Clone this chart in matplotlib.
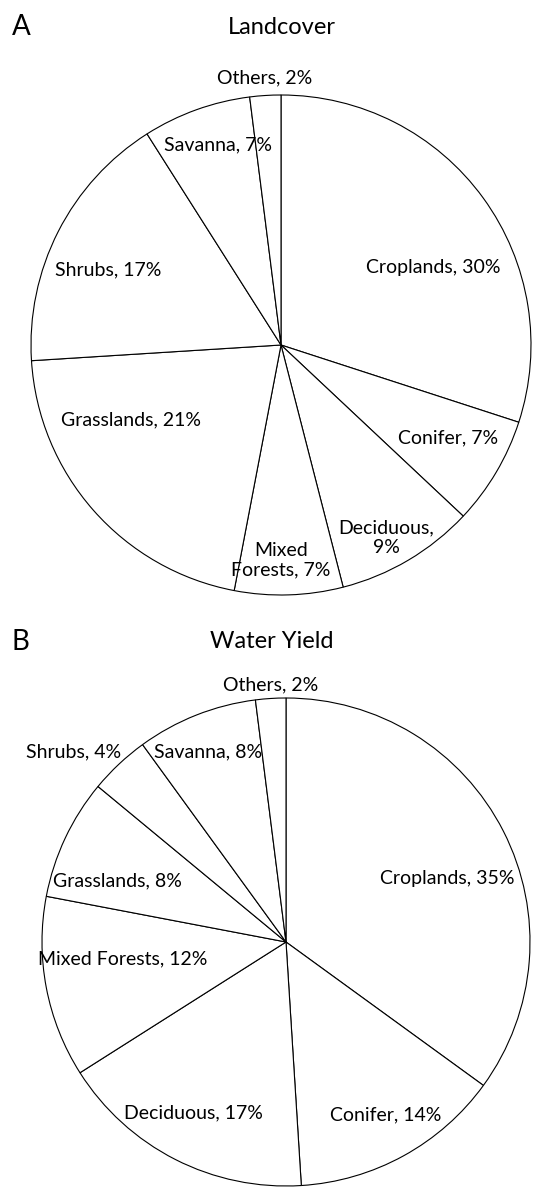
import matplotlib.pyplot as plt
import numpy as np

# data, clockwise from 12 o'clock
categories = ['Croplands', 'Conifer', 'Deciduous', 'Mixed Forests',
              'Grasslands', 'Shrubs', 'Savanna', 'Others']
landcover = [30, 7, 9, 7, 21, 17, 7, 2]
water_yield = [35, 14, 17, 12, 8, 4, 8, 2]

# label layout (in units of pie radius, relative to pie centre)
label_pos_a = [(0.61, 0.31), (0.67, -0.37), (0.42, -0.77), (0.00, -0.86),
               (-0.60, -0.30), (-0.69, 0.30), (-0.25, 0.80), (-0.064, 1.068)]
label_text_a = ['Croplands, 30%', 'Conifer, 7%', 'Deciduous,\n9%', 'Mixed\nForests, 7%',
                'Grasslands, 21%', 'Shrubs, 17%', 'Savanna, 7%', 'Others, 2%']
label_pos_b = [(0.66, 0.26), (0.41, -0.71), (-0.38, -0.70), (-0.67, -0.07),
               (-0.69, 0.25), (-0.87, 0.78), (-0.32, 0.78), (-0.061, 1.053)]

FONT = 'Lato'
W, H = 533, 1188
fig = plt.figure(figsize=(W / 100, H / 100), dpi=100)


def pie_axes(cx, cy, r, pad=1.15):
    # axes in pixel coords so the pie radius is r pixels
    half = pad * r
    return fig.add_axes([(cx - half) / W, (H - cy - half) / H, 2 * half / W, 2 * half / H])


def draw_pie(ax, values, texts, positions):
    ax.pie(values, startangle=90, counterclock=False, radius=1,
           colors=['white'] * len(values),
           wedgeprops=dict(edgecolor='black', linewidth=0.8))
    for t, (x, y) in zip(texts, positions):
        ax.text(x, y, t, ha='center', va='center', fontsize=14,
                family=FONT, linespacing=1.2)
    ax.set_xlim(-1.15, 1.15)
    ax.set_ylim(-1.15, 1.15)
    ax.set_aspect('equal')
    ax.axis('off')


ax_a = pie_axes(281, 345, 250)
draw_pie(ax_a, landcover, label_text_a, label_pos_a)

label_text_b = [f'{c}, {v}%' for c, v in zip(categories, water_yield)]
ax_b = pie_axes(286, 942, 244)
draw_pie(ax_b, water_yield, label_text_b, label_pos_b)

# panel letters and titles
fig.text(12 / W, 1 - 27 / H, 'A', fontsize=20, family=FONT, va='center', ha='left')
fig.text(282 / W, 1 - 28 / H, 'Landcover', fontsize=17, family=FONT, va='center', ha='center')
fig.text(12 / W, 1 - 642 / H, 'B', fontsize=20, family=FONT, va='center', ha='left')
fig.text(272 / W, 1 - 642 / H, 'Water Yield', fontsize=17, family=FONT, va='center', ha='center')

fig.savefig('out.png', dpi=100, facecolor='white')
